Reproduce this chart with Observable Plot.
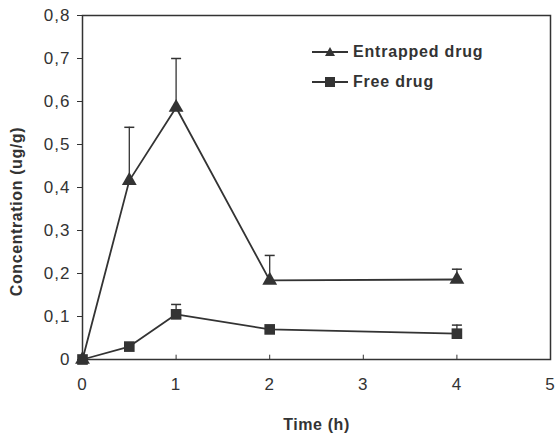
<!DOCTYPE html>
<html><head><meta charset="utf-8">
<script src="https://cdn.jsdelivr.net/npm/d3@7"></script>
<script src="https://cdn.jsdelivr.net/npm/@observablehq/plot@0.6"></script>
<style>
body{margin:0;background:#fff;font-family:"Liberation Sans",Arial,sans-serif;}
#wrap{position:relative;width:558px;height:435px;}
#legend{position:absolute;left:312px;top:37px;font-weight:bold;font-size:16px;letter-spacing:0.8px;color:#333;line-height:30px;}
#legend div{display:flex;align-items:center;}
#legend svg{margin-right:5px;}
</style></head>
<body><div id="wrap"></div>
<script>
const times = [0, 0.5, 1, 2, 4];
const entrapped = [0, 0.416, 0.586, 0.184, 0.186];
const entrappedErr = [0, 0.124, 0.114, 0.058, 0.024];
const freeDrug = [0, 0.03, 0.105, 0.07, 0.06];
const freeErr = [0, 0, 0.023, 0, 0.02];
const seriesNames = ["Entrapped drug", "Free drug"];
const xTicks = [0, 1, 2, 3, 4, 5];
const yTicks = [0, 0.1, 0.2, 0.3, 0.4, 0.5, 0.6, 0.7, 0.8];

const ink = "#333";
const rows = [];
times.forEach((t, i) => {
  rows.push({series: seriesNames[0], t, v: entrapped[i], e: entrappedErr[i]});
  rows.push({series: seriesNames[1], t, v: freeDrug[i], e: freeErr[i]});
});
const errRows = rows.filter(d => d.e > 0);
const capSymbol = {draw(ctx, size){ const w = 5; ctx.moveTo(-w, 0); ctx.lineTo(w, 0); }};

const fmt = d => d === 0 ? "0" : String(d.toFixed(1)).replace(".", ",");

const chart = Plot.plot({
  width: 558, height: 435,
  marginLeft: 82, marginRight: 8, marginTop: 15, marginBottom: 76,
  style: {fontFamily: "Liberation Sans, Arial, sans-serif", color: ink, background: "transparent"},
  x: {domain: [0, 5]},
  y: {domain: [0, 0.8]},
  marks: [
    Plot.axisX({ticks: xTicks, tickFormat: d => String(d), tickSize: 0, tickPadding: 18, fontSize: 17,
      label: "Time (h)", labelAnchor: "center", labelOffset: 70, labelArrow: "none"}),
    Plot.axisY({ticks: yTicks, tickFormat: fmt, tickSize: 5, tickPadding: 7, fontSize: 17,
      label: "Concentration (ug/g)", labelAnchor: "center", labelOffset: 72, labelArrow: "none"}),
    Plot.frame({stroke: ink, strokeWidth: 1.5}),
    Plot.ruleX(xTicks.slice(1, 5), {x: d => d, y1: 0, y2: 0.01, stroke: ink}),
    Plot.ruleX(errRows, {x: "t", y1: "v", y2: d => d.v + d.e, stroke: ink, strokeWidth: 1.3}),
    Plot.dot(errRows, {x: "t", y: d => d.v + d.e, symbol: capSymbol, stroke: ink, strokeWidth: 1.5, r: 5}),
    Plot.line(rows, {x: "t", y: "v", z: "series", stroke: ink, strokeWidth: 1.8}),
    Plot.dot(rows.filter(d => d.series === seriesNames[0]), {x: "t", y: "v", symbol: "triangle", fill: ink, r: 5.5}),
    Plot.dot(rows.filter(d => d.series === seriesNames[1]), {x: "t", y: "v", symbol: "square", fill: ink, r: 6})
  ]
});
chart.querySelectorAll("[aria-label='x-axis tick label'] text, [aria-label='y-axis tick label'] text").forEach(t => { t.style.letterSpacing = "1px"; });
chart.querySelectorAll("[aria-label='x-axis label'], [aria-label='y-axis label']").forEach(g => {
  const isY = g.getAttribute("aria-label").startsWith("y");
  g.querySelectorAll("text").forEach(t => {
    t.style.fontSize = "16px";
    t.style.fontWeight = "bold";
    t.style.letterSpacing = "0.6px";
    if (isY) t.setAttribute("dx", "-24");
  });
});
const wrap = document.getElementById("wrap");
wrap.appendChild(chart);

const legend = document.createElement("div");
legend.id = "legend";
const mk = (name, shape) => {
  const row = document.createElement("div");
  const marker = shape === "tri"
    ? `<polygon points="18,2 23,11 13,11" fill="${ink}"/>`
    : `<rect x="13" y="2" width="10" height="10" fill="${ink}"/>`;
  row.innerHTML = `<svg width="36" height="14"><line x1="0" y1="7" x2="36" y2="7" stroke="${ink}" stroke-width="1.8"/>${marker}</svg><span>${name}</span>`;
  return row;
};
legend.appendChild(mk(seriesNames[0], "tri"));
legend.appendChild(mk(seriesNames[1], "sq"));
wrap.appendChild(legend);
</script></body></html>
